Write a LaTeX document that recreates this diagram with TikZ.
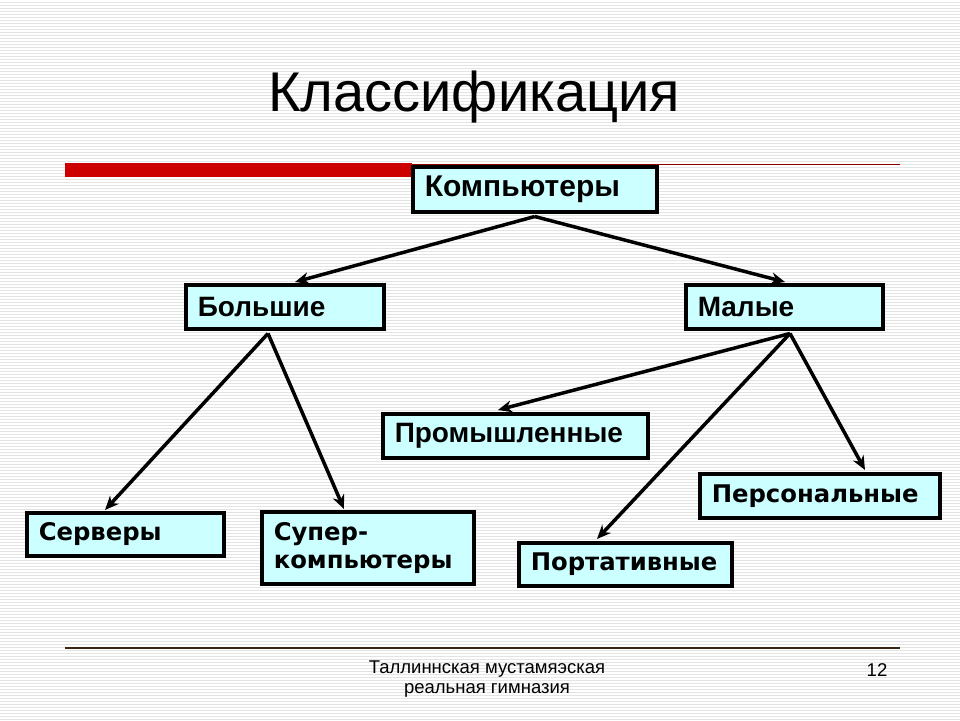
\documentclass[tikz,border=0pt]{standalone}
\usepackage{fontspec}
\setmainfont{Liberation Sans}
\newfontfamily\arialb{Liberation Sans}
\newfontfamily\verd{DejaVu Sans}
\usetikzlibrary{patterns,arrows.meta,calc}
\definecolor{boxfill}{HTML}{CCFFFF}
\definecolor{barred}{HTML}{CC0000}
\definecolor{stripe}{HTML}{E4E4E4}
\tikzset{
  box/.style={draw=black, line width=3.5pt, fill=boxfill, rectangle, anchor=north west,
    inner xsep=12pt, inner ysep=0pt, align=left},
  fa/.style={font=\arialb\bfseries\fontsize{28}{32}\selectfont},
  fk/.style={font=\arialb\bfseries\fontsize{30}{34}\selectfont},
  fv/.style={font=\verd\bfseries\fontsize{24.3}{28}\selectfont},
  conn/.style={line width=3.5pt, -{Stealth[length=14pt,width=12pt]}},
}
\begin{document}
\begin{tikzpicture}[x=1pt,y=-1pt]
\useasboundingbox (0,0) rectangle (960,720);
\fill[white] (0,0) rectangle (960,720);
\fill[pattern=horizontal lines, pattern color=stripe] (0,0) rectangle (960,720);
% title
\node[anchor=west, font=\fontsize{56}{60}\selectfont, inner sep=0pt] (title) at (268,97) {Классификация};
% decorative lines
\fill[barred] (65,163) rectangle (412,177);
\draw[barred!70!black, line width=1pt] (412,164) -- (900,164);
\draw[black!70!brown, line width=1.2pt] (65,648) -- (900,648);
% boxes
\node[box, fk, minimum width=244pt, minimum height=45pt, text width=220pt] (komp) at (411,165) {Компьютеры};
\node[box, fa, minimum width=198pt, minimum height=44pt, text width=174pt] (bol) at (184,283) {Большие};
\node[box, fa, minimum width=197pt, minimum height=44pt, text width=173pt] (mal) at (684,283) {Малые};
\node[box, fa, minimum width=265pt, minimum height=44pt, text width=241pt] (prom) at (381,412) {Промышленные};
\node[box, fv, minimum width=240pt, minimum height=44pt, text width=216pt] (pers) at (698,472) {Персональные};
\node[box, fv, minimum width=197pt, minimum height=43pt, text width=173pt] (serv) at (25,511) {Серверы};
\node[box, fv, minimum width=212pt, minimum height=72pt, text width=188pt] (super) at (260,510) {Супер-\\компьютеры};
\node[box, fv, minimum width=213pt, minimum height=43pt, text width=189pt] (port) at (517,541) {Портативные};
% connectors
\coordinate (ks) at ($(komp.south)+(0,3)$);
\coordinate (bs) at ($(bol.south west)+(84,3)$);
\coordinate (ms) at ($(mal.south west)+(106,3)$);
\draw[conn] (ks) -- ($(bol.north west)+(111,-1)$);
\draw[conn] (ks) -- ($(mal.north west)+(101,-1)$);
\draw[conn] (bs) -- ($(serv.north west)+(80,-1)$);
\draw[conn] (bs) -- ($(super.north west)+(84,-1)$);
\draw[conn] (ms) -- ($(prom.north west)+(117,-2)$);
\draw[conn] (ms) -- ($(port.north west)+(80,-2)$);
\draw[conn] (ms) -- ($(pers.north west)+(167,-2)$);
% footer
\node[font=\fontsize{18.5}{20}\selectfont, align=center, inner sep=0pt] (foot) at (487,679) {Таллиннская мустамяэская\\реальная гимназия};
\node[font=\fontsize{18.5}{20}\selectfont, inner sep=0pt] (pg) at (877,670) {12};
\end{tikzpicture}
\end{document}
